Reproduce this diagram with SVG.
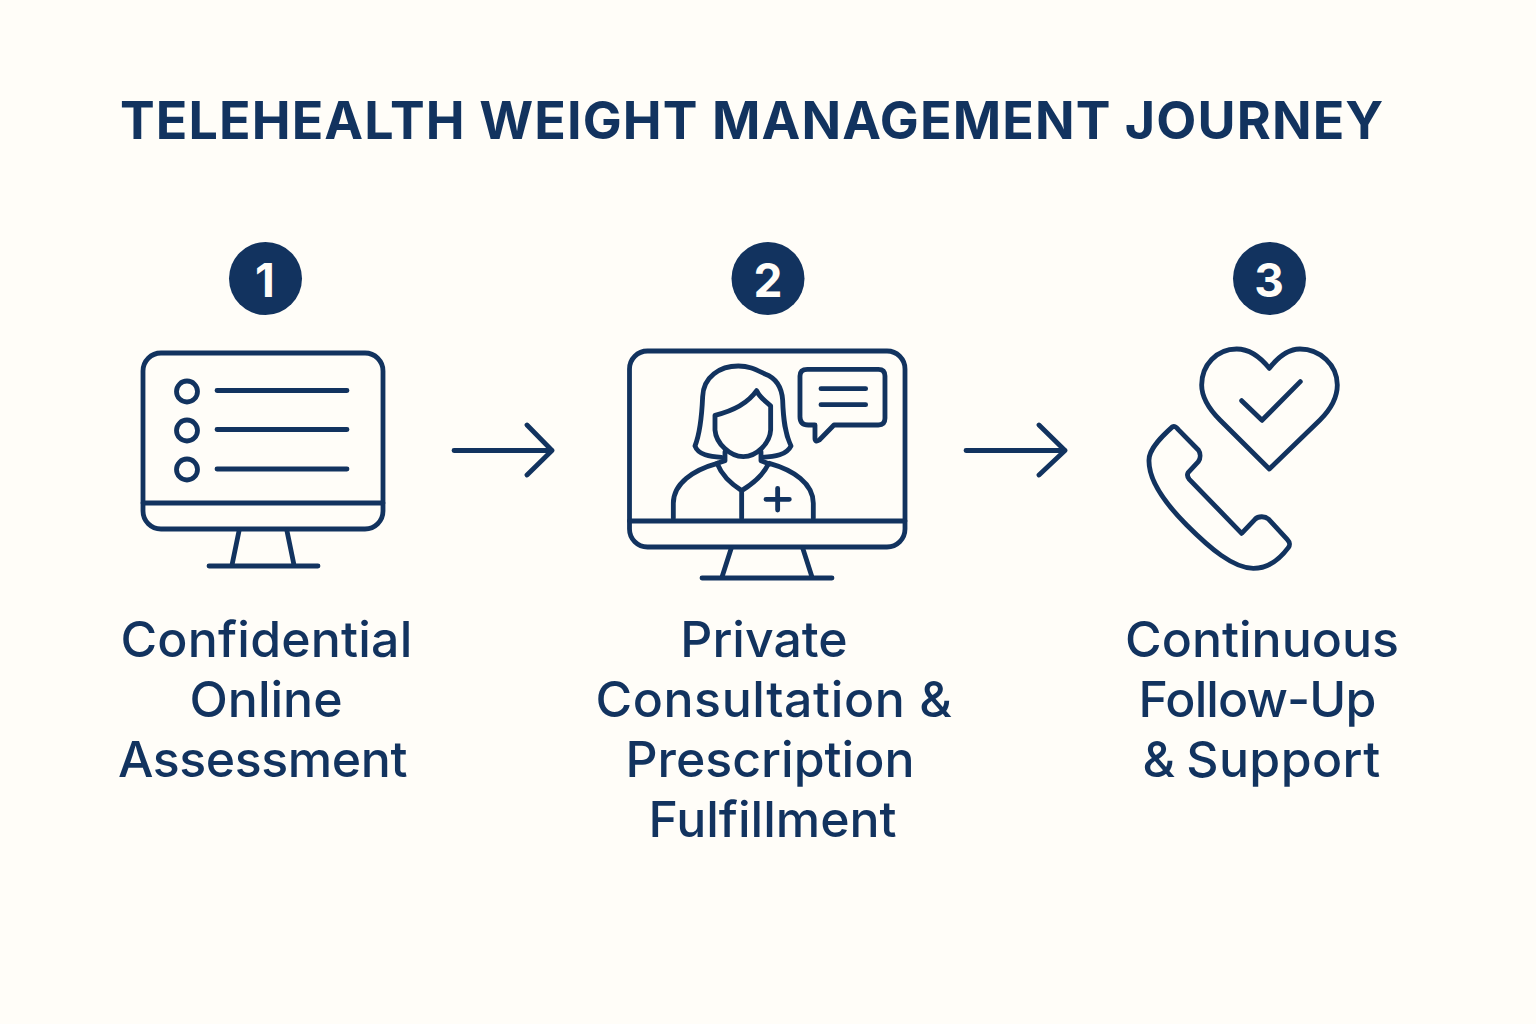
<svg xmlns="http://www.w3.org/2000/svg" width="1536" height="1024" viewBox="0 0 1536 1024">
<style>
.bg{fill:#fffdf8}
.s{fill:none;stroke:#12335f;stroke-width:4.800;stroke-linecap:round;stroke-linejoin:round}
.z{fill:none;stroke:#12335f;stroke-width:14.500;stroke-linecap:round;stroke-linejoin:round}
.b{fill:#12335f}
.n{font-family:Inter,"Liberation Sans",sans-serif;font-weight:700;font-size:46px;fill:#fffdf8;text-anchor:middle}
.t{font-family:Inter,"Liberation Sans",sans-serif;font-weight:700;font-size:52px;letter-spacing:1.100px;fill:#12335f}
.l{font-family:Inter,"Liberation Sans",sans-serif;font-weight:500;font-size:50px;fill:#12335f;text-anchor:middle}
</style>
<rect class="bg" width="1536" height="1024"/>
<text id="title" class="t" x="120" y="139">TELEHEALTH WEIGHT MANAGEMENT JOURNEY</text>
<g id="step1">
<circle class="b" cx="265.500" cy="278.500" r="36.500"/><text class="n" x="265" y="297">1</text>
<rect class="s" x="143" y="353" width="240" height="176" rx="18"/>
<path class="s" d="M143 503H383M239 531L232 565M287 531L294 565M209 566H318"/>
<circle class="s" cx="187" cy="391.500" r="10.500"/><circle class="s" cx="187" cy="430.500" r="10.500"/><circle class="s" cx="187" cy="469.500" r="10.500"/>
<path class="s" d="M217 390.500H347M217 429.500H347M217 469H347"/>
<text class="l" x="266.500" y="657" style="letter-spacing:.2px">Confidential</text><text class="l" x="266" y="717">Online</text><text class="l" x="262.500" y="777" style="letter-spacing:-.4px">Assessment</text>
</g>
<g id="step2">
<circle class="b" cx="768" cy="278.500" r="36.500"/><text class="n" x="768" y="297">2</text>
<rect class="s" x="629.500" y="351" width="275.500" height="196" rx="18"/>
<path class="s" d="M629.500 521H905M731 549L722 577M803 549L812 577M702 578H832"/>
<g transform="translate(610 340) scale(.3333)">
<path class="z" d="M335 352C300 350 265 345 255 318C270 280 275 240 278 170C280 110 330 78 385 78C420 78 440 90 465 102C500 115 515 140 518 180C520 240 525 280 543 318C530 345 495 350 455 352"/>
<path class="z" d="M315 226C360 215 410 195 440 152C450 175 470 185 482 198V270C480 310 440 350 400 350C360 350 318 310 315 270Z"/>
<path class="z" d="M345 335V362L322 370M453 335V362L478 372"/>
<path class="z" d="M322 372C335 405 360 430 395 452C430 430 460 405 475 372M395 452V535"/>
<path class="z" d="M190 535V490C190 430 250 390 322 370M478 370C550 390 610 430 610 490V535"/>
<path class="z" d="M503 445V510M468 478H538"/>
<path class="z" d="M592 88H805Q825 88 825 108V235Q825 255 805 255H672L628 300Q615 308 615 295V255H595Q570 255 570 230V108Q570 88 592 88Z"/>
<path class="z" d="M633 146H767M633 194H767"/>
</g>
<text class="l" x="764" y="657">Private</text><text class="l" x="774" y="717" style="letter-spacing:.6px">Consultation &amp;</text><text class="l" x="770" y="777">Prescription</text><text class="l" x="772.500" y="837">Fulfillment</text>
</g>
<g id="step3">
<circle class="b" cx="1269.500" cy="278.500" r="36.500"/><text class="n" x="1269" y="297">3</text>
<g transform="translate(1130 335) scale(.3333)">
<path class="z" d="M418 100C390 65 360 42 320 42C260 42 215 90 215 150C215 190 240 225 270 255L418 402L570 255C600 225 622 190 622 150C622 90 570 42 510 42C475 42 445 65 418 100Z"/>
<path class="z" d="M335 197L396 256L511 140"/>
<path class="z" d="M128 275C135 272 140 278 145 284L205 345C212 355 212 370 205 380L175 412C170 420 172 426 178 433L335 595L375 553C385 543 405 543 415 552L473 615C480 622 480 632 475 638C455 665 420 700 370 700C310 700 240 640 170 570C110 510 55 440 57 375C57 340 100 300 128 275Z"/>
</g>
<text class="l" x="1262" y="657">Continuous</text><text class="l" x="1257" y="717" style="letter-spacing:-.9px">Follow-Up</text><text class="l" x="1261.500" y="777" style="letter-spacing:.4px;word-spacing:-3px">&amp; Support</text>
</g>
<g id="connectors">
<path class="s" d="M454 450.500H552M527 425L552 450.500L527 475"/>
<path class="s" d="M966 450.500H1065M1039 425L1065 450.500L1039 475"/>
</g>
</svg>
